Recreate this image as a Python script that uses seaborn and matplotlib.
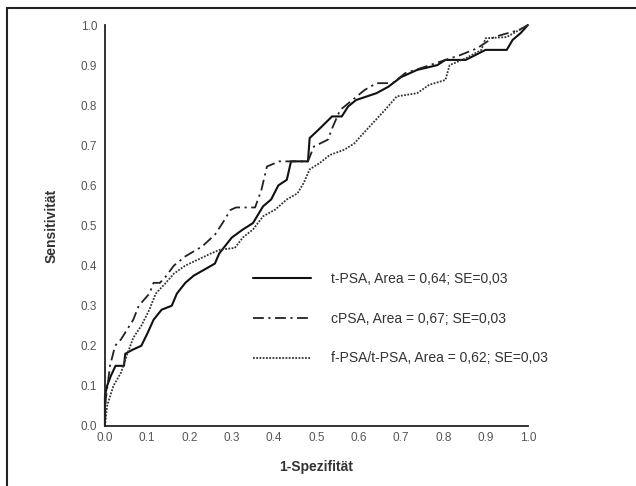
import matplotlib
matplotlib.use("Agg")
import matplotlib.pyplot as plt
from matplotlib.patches import Rectangle
import seaborn as sns
import pandas as pd

sns.set_theme(style="white")
plt.rcParams["font.family"] = ["Liberation Sans", "DejaVu Sans"]

# ROC curves: 1-specificity (x) vs. sensitivity (y)
tpsa_x = [0.0, 0.0, 0.005, 0.014, 0.025, 0.045, 0.048, 0.065, 0.086, 0.10, 0.115, 0.134,
          0.158, 0.17, 0.19, 0.21, 0.235, 0.26, 0.27, 0.30, 0.326, 0.35, 0.374, 0.393,
          0.41, 0.43, 0.44, 0.48, 0.484, 0.508, 0.537, 0.56, 0.575, 0.594, 0.642, 0.67,
          0.70, 0.738, 0.786, 0.805, 0.853, 0.90, 0.95, 0.964, 0.983, 1.0]
tpsa_y = [0.0, 0.075, 0.10, 0.125, 0.15, 0.15, 0.18, 0.19, 0.20, 0.23, 0.265, 0.29,
          0.30, 0.33, 0.357, 0.375, 0.39, 0.405, 0.43, 0.47, 0.49, 0.506, 0.548, 0.565,
          0.60, 0.614, 0.66, 0.66, 0.718, 0.742, 0.772, 0.772, 0.797, 0.813, 0.83, 0.846,
          0.87, 0.888, 0.90, 0.913, 0.913, 0.938, 0.938, 0.963, 0.98, 1.0]

cpsa_x = [0.0, 0.002, 0.012, 0.024, 0.038, 0.067, 0.08, 0.105, 0.115, 0.13, 0.144, 0.163,
          0.19, 0.23, 0.26, 0.278, 0.297, 0.31, 0.355, 0.37, 0.383, 0.412, 0.48, 0.494,
          0.527, 0.537, 0.556, 0.585, 0.614, 0.642, 0.68, 0.71, 0.757, 0.805, 0.84, 0.88,
          0.92, 0.98, 1.0]
cpsa_y = [0.0, 0.066, 0.15, 0.20, 0.216, 0.265, 0.30, 0.33, 0.357, 0.357, 0.373, 0.40,
          0.423, 0.448, 0.477, 0.506, 0.539, 0.545, 0.545, 0.589, 0.647, 0.66, 0.66, 0.697,
          0.714, 0.742, 0.788, 0.813, 0.838, 0.855, 0.855, 0.88, 0.896, 0.913, 0.925, 0.942,
          0.97, 0.988, 1.0]

ratio_x = [0.0, 0.005, 0.02, 0.038, 0.053, 0.067, 0.086, 0.105, 0.12, 0.144, 0.163, 0.19,
           0.22, 0.25, 0.273, 0.307, 0.326, 0.35, 0.374, 0.403, 0.43, 0.455, 0.47, 0.484,
           0.508, 0.532, 0.566, 0.59, 0.604, 0.633, 0.662, 0.69, 0.738, 0.767, 0.805, 0.815,
           0.853, 0.89, 0.90, 0.95, 0.98, 1.0]
ratio_y = [0.0, 0.05, 0.10, 0.133, 0.18, 0.22, 0.25, 0.29, 0.33, 0.357, 0.38, 0.40,
           0.415, 0.43, 0.44, 0.444, 0.47, 0.49, 0.523, 0.54, 0.565, 0.58, 0.606, 0.64,
           0.656, 0.676, 0.689, 0.705, 0.722, 0.755, 0.788, 0.822, 0.83, 0.851, 0.863, 0.90,
           0.917, 0.938, 0.967, 0.97, 0.988, 1.0]

labels = ["t-PSA, Area = 0,64; SE=0,03",
          "cPSA, Area = 0,67; SE=0,03",
          "f-PSA/t-PSA, Area = 0,62; SE=0,03"]
ticks = [0.0, 0.1, 0.2, 0.3, 0.4, 0.5, 0.6, 0.7, 0.8, 0.9, 1.0]

fig = plt.figure(figsize=(6.36, 4.86), dpi=100)
ax = fig.add_axes([0.165, 0.1235, 0.665, 0.825])

styles = [dict(color="#111111", lw=1.5, linestyle="-"),
          dict(color="#222222", lw=1.3, linestyle=(0, (6, 2.5, 1.2, 2.5))),
          dict(color="#333333", lw=1.3, linestyle=(0, (1, 0.8)))]

for xs, ys, lab, st in zip([tpsa_x, cpsa_x, ratio_x], [tpsa_y, cpsa_y, ratio_y], labels, styles):
    df = pd.DataFrame({"x": xs, "y": ys})
    sns.lineplot(data=df, x="x", y="y", ax=ax, label=lab, estimator=None, sort=False, **st)

ax.set_xlim(0, 1)
ax.set_ylim(0, 1)
ax.set_xticks(ticks)
ax.set_yticks(ticks)
ax.set_xticklabels([f"{t:.1f}" for t in ticks])
ax.set_yticklabels([f"{t:.1f}" for t in ticks])
ax.tick_params(axis="both", direction="inout", length=5, width=1.2, color="#222222",
               labelsize=8.5, labelcolor="#555555", pad=3)
ax.tick_params(axis="x", pad=2)
for side in ["top", "right"]:
    ax.spines[side].set_visible(False)
for side in ["left", "bottom"]:
    ax.spines[side].set_color("#222222")
    ax.spines[side].set_linewidth(1.3)
for ln in ax.get_lines():
    ln.set_clip_on(False)

ax.set_xlabel("1-Spezifität", fontsize=10, fontweight="bold", color="#333333", labelpad=11)
ax.set_ylabel("Sensitivität", fontsize=10, fontweight="bold", color="#333333", labelpad=16)

leg = ax.legend(loc="upper left", bbox_to_anchor=(253 / 636, 1 - 272 / 486),
                bbox_transform=fig.transFigure, frameon=False, borderpad=0,
                borderaxespad=0, handlelength=4.2, handletextpad=1.4,
                labelspacing=1.85, fontsize=10)
for t in leg.get_texts():
    t.set_color("#333333")

# outer frame of the figure
fig.patches.append(Rectangle((7 / 636, -0.1), 1.2, 1 - 8 / 486 + 0.1,
                             transform=fig.transFigure, fill=False,
                             edgecolor="#222222", linewidth=1.5))

fig.savefig("out.png", dpi=100)
